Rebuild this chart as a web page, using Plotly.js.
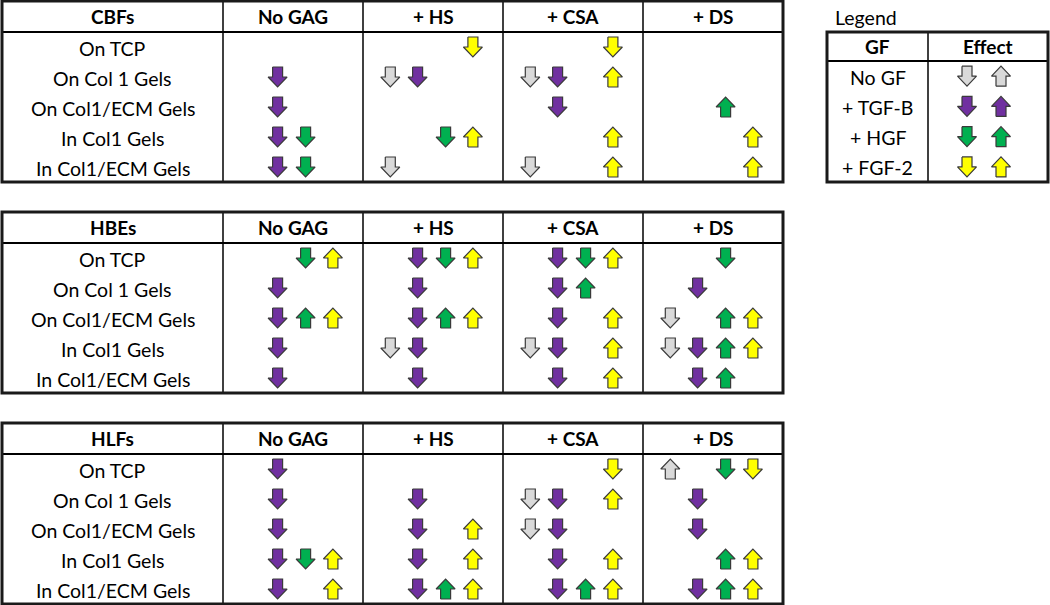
<!DOCTYPE html>
<html>
<head>
<meta charset="utf-8">
<script src="https://cdn.plot.ly/plotly-3.0.1.min.js"></script>
<style>html,body{margin:0;padding:0;background:#fff;}#chart{width:1050px;height:605px;}</style>
</head>
<body>
<div id="chart"></div>
<script>
// ---------- DATA ----------
const cellTypes = ["CBFs", "HBEs", "HLFs"];
const gagTreatments = ["No GAG", "+ HS", "+ CSA", "+ DS"];
const conditions = ["On TCP", "On Col 1 Gels", "On Col1/ECM Gels", "In Col1 Gels", "In Col1/ECM Gels"];
const gfCodes = ["N", "T", "H", "F"];
const gfNames = ["No GF", "+ TGF-B", "+ HGF", "+ FGF-2"];
const gfColors = ["#D9D9D9", "#7030A0", "#00B050", "#FFFF00"];
// effect codes: GF letter + d (down) / u (up)
const cbfEffects = [
  ["", "Fd", "Fd", ""],
  ["Td", "Nd Td", "Nd Td Fu", ""],
  ["Td", "", "Td", "Hu"],
  ["Td Hd", "Hd Fu", "Fu", "Fu"],
  ["Td Hd", "Nd", "Nd Fu", "Fu"]
];
const hbeEffects = [
  ["Hd Fu", "Td Hd Fu", "Td Hd Fu", "Hd"],
  ["Td", "Td", "Td Hu", "Td"],
  ["Td Hu Fu", "Td Hu Fu", "Td Fu", "Nd Hu Fu"],
  ["Td", "Nd Td", "Nd Td Fu", "Nd Td Hu Fu"],
  ["Td", "Td", "Td Fu", "Td Hu"]
];
const hlfEffects = [
  ["Td", "", "Fd", "Nu Hd Fd"],
  ["Td", "Td", "Nd Td Fu", "Td"],
  ["Td", "Td Fu", "Nd Td", "Td"],
  ["Td Hd Fu", "Td Fu", "Td Fu", "Hu Fu"],
  ["Td Fu", "Td Hu Fu", "Td Hu Fu", "Td Hu Fu"]
];
const allEffects = [cbfEffects, hbeEffects, hlfEffects];

// ---------- LAYOUT CONSTANTS ----------
const FONT = "Lato, 'Open Sans', sans-serif";
const tableX0 = 2, labelW = 221, colW = 140;
const tableTops = [1, 212, 423];
const headH = 31, rowH = 30;
const slotFrac = [0.195, 0.39, 0.59, 0.785];
const legX0 = 827, legMid = 928, legX1 = 1048, legTop = 32, legHeadH = 29, legRowH = 30.25;

const shapes = [];
const annotations = [];
const arrowPts = gfColors.map(() => ({x: [], y: []}));

function arrow(gi, cx, cy, dir) {
  const hw = 9.5, sw = 5, h = 10;
  let pts;
  if (dir === "d") {
    pts = [[cx - sw, cy - h], [cx + sw, cy - h], [cx + sw, cy], [cx + hw, cy], [cx, cy + h], [cx - hw, cy], [cx - sw, cy], [cx - sw, cy - h]];
  } else {
    pts = [[cx - sw, cy + h], [cx + sw, cy + h], [cx + sw, cy], [cx + hw, cy], [cx, cy - h], [cx - hw, cy], [cx - sw, cy], [cx - sw, cy + h]];
  }
  pts.forEach(p => { arrowPts[gi].x.push(p[0]); arrowPts[gi].y.push(p[1]); });
  arrowPts[gi].x.push(null); arrowPts[gi].y.push(null);
}
function line(x0, y0, x1, y1, w, c) {
  shapes.push({type: "line", xref: "x", yref: "y", x0, y0, x1, y1, line: {color: c || "#000", width: w}});
}
function text(t, x, y, size, bold, anchor) {
  annotations.push({xref: "x", yref: "y", x, y, text: bold ? "<b>" + t + "</b>" : t, showarrow: false,
    xanchor: anchor || "center", yanchor: "middle", font: {family: FONT, size, color: "#000"}});
}

cellTypes.forEach((ct, ti) => {
  const top = tableTops[ti];
  const bottom = top + headH + rowH * conditions.length;
  const x1 = tableX0 + labelW + colW * gagTreatments.length;
  line(tableX0, top + headH, x1, top + headH, 2, "#000");
  for (let c = 0; c < gagTreatments.length; c++) {
    const xl = tableX0 + labelW + colW * c;
    line(xl, top, xl, bottom, 1.5, "#000");
  }
  shapes.push({type: "rect", xref: "x", yref: "y", x0: tableX0, y0: top, x1, y1: bottom, line: {color: "#1a1a1a", width: 3}});
  text(ct, tableX0 + labelW / 2, top + headH / 2, 19, true);
  gagTreatments.forEach((g, c) => text(g, tableX0 + labelW + colW * c + colW / 2, top + headH / 2, 19, true));
  conditions.forEach((cond, r) => {
    const cy = top + headH + rowH * r + rowH / 2;
    text(cond, tableX0 + labelW / 2, cy + 1, 19.5, false);
    gagTreatments.forEach((g, c) => {
      const cell = allEffects[ti][r][c];
      if (!cell) return;
      cell.split(" ").forEach(code => {
        const gi = gfCodes.indexOf(code[0]);
        const cx = tableX0 + labelW + colW * c + colW * slotFrac[gi];
        arrow(gi, cx, cy, code[1]);
      });
    });
  });
});

// legend
text("Legend", legX0 + 6, 17, 19.5, false, "left");
const legBottom = legTop + legHeadH + legRowH * gfNames.length;
line(legX0, legTop + legHeadH, legX1, legTop + legHeadH, 2, "#000");
line(legMid, legTop, legMid, legBottom, 1.5, "#000");
shapes.push({type: "rect", xref: "x", yref: "y", x0: legX0, y0: legTop, x1: legX1, y1: legBottom, line: {color: "#1a1a1a", width: 3}});
text("GF", (legX0 + legMid) / 2, legTop + legHeadH / 2, 19, true);
text("Effect", (legMid + legX1) / 2, legTop + legHeadH / 2, 19, true);
gfNames.forEach((n, i) => {
  const cy = legTop + legHeadH + legRowH * i + legRowH / 2;
  text(n, (legX0 + legMid) / 2, cy + 1, 19.5, false);
  const ec = (legMid + legX1) / 2;
  arrow(i, ec - 21, cy, "d");
  arrow(i, ec + 13, cy, "u");
});

const traces = gfColors.map((col, i) => ({
  type: "scatter", mode: "lines", x: arrowPts[i].x, y: arrowPts[i].y,
  fill: "toself", fillcolor: col, line: {color: "#3a3a3a", width: 1.2},
  hoverinfo: "skip", showlegend: false, name: gfNames[i]
}));

const layout = {
  width: 1050, height: 605,
  margin: {l: 0, r: 0, t: 0, b: 0},
  paper_bgcolor: "#fff", plot_bgcolor: "#fff",
  xaxis: {range: [0, 1050], visible: false, fixedrange: true},
  yaxis: {range: [605, 0], visible: false, fixedrange: true},
  shapes, annotations, showlegend: false
};
Plotly.newPlot("chart", traces, layout, {staticPlot: true, displayModeBar: false});
</script>
</body>
</html>
